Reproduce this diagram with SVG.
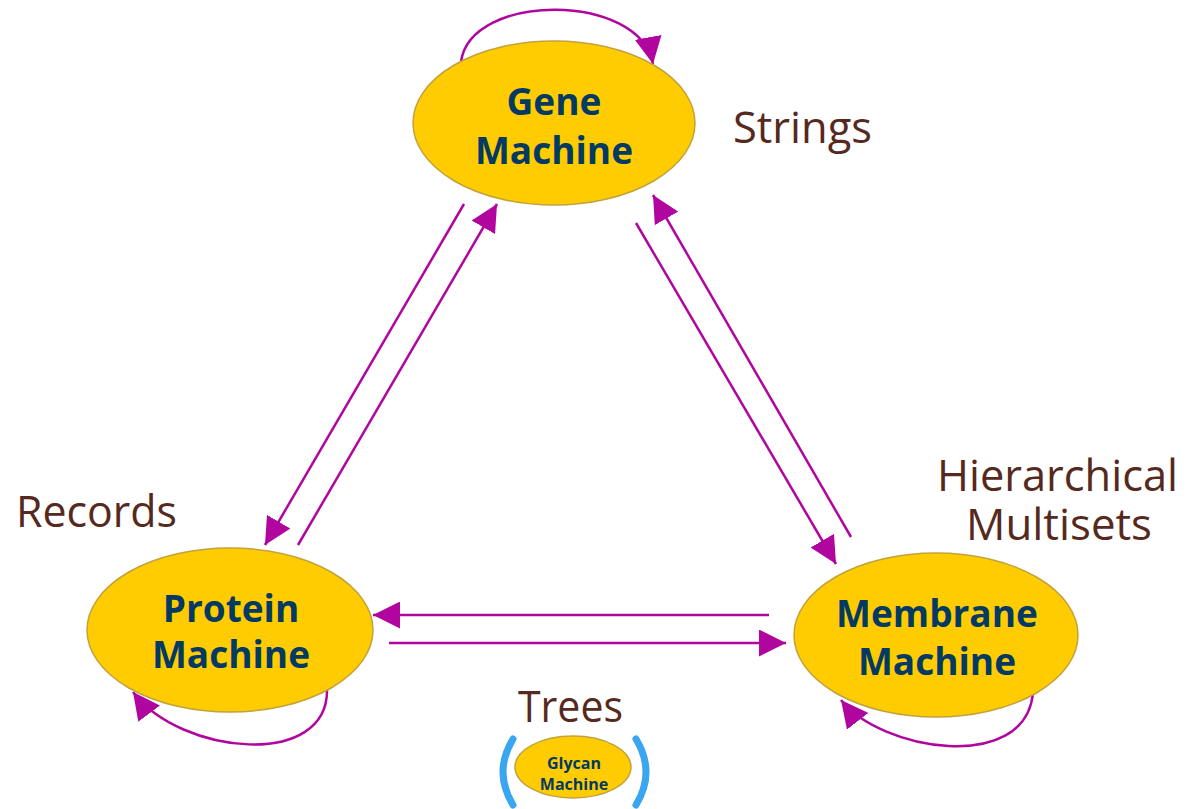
<svg xmlns="http://www.w3.org/2000/svg" width="1186" height="809" viewBox="0 0 1186 809">
<style>
.node ellipse{fill:#fecc00;stroke:#c2a23c;stroke-width:1.5}
.nt{font-family:"Open Sans","Noto Sans",sans-serif;font-weight:700;fill:#033a63;text-anchor:middle}
.lbl{font-family:"Open Sans","Noto Sans",sans-serif;font-size:43px;fill:#56291e}
.edge{fill:none;stroke:#b0069f;stroke-width:2.5;marker-end:url(#ah)}
.paren{fill:none;stroke:#3aa6f2;stroke-width:7;stroke-linecap:round}
</style>
<defs>
<marker id="ah" markerUnits="userSpaceOnUse" markerWidth="27" markerHeight="27" viewBox="0 0 10 10" refX="10" refY="5" orient="auto">
<path d="M0,0 L10,5 L0,10 Z" fill="#b0069f"/>
</marker>
</defs>
<rect width="1186" height="809" fill="#fff"/>
<g id="connectors">
<path class="edge" d="M464,204 L265,545"/>
<path class="edge" d="M298,545 L497,204"/>
<path class="edge" d="M636,223 L836,564"/>
<path class="edge" d="M851,537 L653,195"/>
<path class="edge" d="M769,615 L373,615"/>
<path class="edge" d="M389,643 L786,643"/>
<path class="edge" d="M461,62 C470,-8 640,-8 653,64"/>
<path class="edge" d="M327,688 C330,770 180,755 133,692"/>
<path class="edge" d="M1033,693 C1025,775 880,750 841,700"/>
</g>
<g id="gene" class="node">
<ellipse cx="554" cy="123" rx="141" ry="82"/>
<text class="nt" font-size="37" x="554" y="115">Gene</text>
<text class="nt" font-size="37" x="554" y="164">Machine</text>
</g>
<g id="protein" class="node">
<ellipse cx="230" cy="630" rx="143" ry="82"/>
<text class="nt" font-size="37" x="231" y="622">Protein</text>
<text class="nt" font-size="37" x="231" y="668">Machine</text>
</g>
<g id="membrane" class="node">
<ellipse cx="936" cy="635" rx="142" ry="82"/>
<text class="nt" font-size="37" x="937" y="627">Membrane</text>
<text class="nt" font-size="37" x="937" y="675">Machine</text>
</g>
<g id="glycan" class="node">
<ellipse cx="573" cy="767" rx="58" ry="31"/>
<text class="nt" font-size="16" x="574" y="769">Glycan</text>
<text class="nt" font-size="16" x="574" y="790">Machine</text>
<path class="paren" d="M513,739 Q493,772 513,805"/>
<path class="paren" d="M636,739 Q656,772 636,805"/>
</g>
<g id="labels">
<text class="lbl" x="733" y="143" textLength="139" lengthAdjust="spacingAndGlyphs">Strings</text>
<text class="lbl" x="16" y="527" textLength="161" lengthAdjust="spacingAndGlyphs">Records</text>
<text class="lbl" x="937" y="491" textLength="241" lengthAdjust="spacingAndGlyphs">Hierarchical</text>
<text class="lbl" x="966" y="540" textLength="186" lengthAdjust="spacingAndGlyphs">Multisets</text>
<text class="lbl" x="518" y="722" textLength="105" lengthAdjust="spacingAndGlyphs">Trees</text>
</g>
</svg>
